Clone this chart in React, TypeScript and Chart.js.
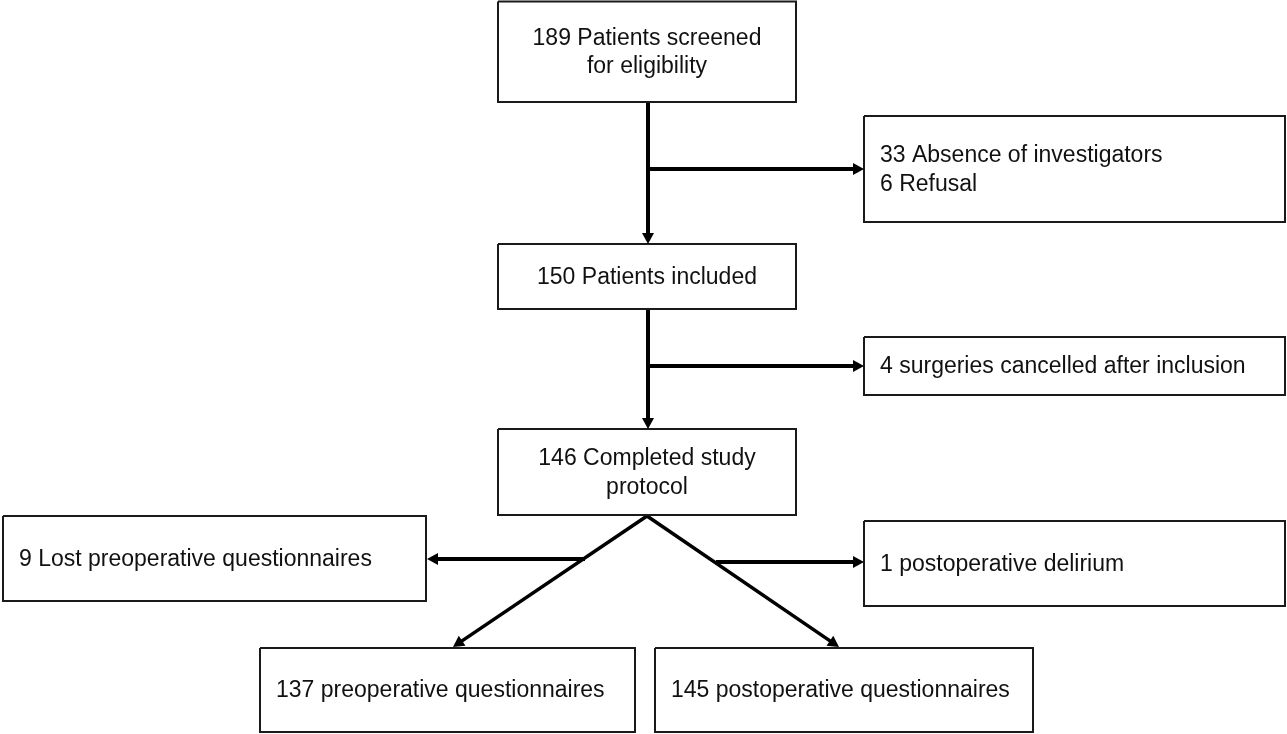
import React, { useEffect, useRef } from "react";
import { Chart, registerables } from "chart.js";

Chart.register(...registerables);

// ---- Flowchart content (text of each node) ----
const nodeLabels: string[][] = [
  ["189 Patients screened", "for eligibility"],
  ["33 Absence of investigators", "6 Refusal"],
  ["150 Patients included"],
  ["4 surgeries cancelled after inclusion"],
  ["146 Completed study", "protocol"],
  ["9 Lost preoperative questionnaires"],
  ["1 postoperative delirium"],
  ["137 preoperative questionnaires"],
  ["145 postoperative questionnaires"],
];
const nodeAlign: ("center" | "left")[] = [
  "center", "left", "center", "left", "center", "left", "left", "left", "left",
];

// ---- Node layout in diagram units (x: 0..1287, y: 0..734 downwards) ----
const nodeLeft = [498, 864, 498, 864, 498, 3, 864, 260, 655];
const nodeRight = [796, 1285, 796, 1285, 796, 426, 1285, 635, 1033];
const nodeTop = [1.5, 116, 244, 337, 429, 516, 521, 648, 648];
const nodeBottom = [102, 222, 309, 395, 515, 601, 606, 732, 732];

// ---- Connectors: start and arrow-tip points ----
const connFromX = [648, 648, 648, 648, 647, 647, 585, 716];
const connFromY = [102, 169, 309, 366, 516, 516, 559, 562];
const connToX = [648, 864, 648, 864, 453, 839, 427, 864];
const connToY = [244, 169, 429, 366, 647, 647, 559, 562];

const HEAD_LEN = 11;
const HEAD_HALF = 6;
const FONT = "23px 'Liberation Sans', Arial, Helvetica, sans-serif";
const INK = "#111111";

export default function App() {
  const canvasRef = useRef<HTMLCanvasElement | null>(null);

  useEffect(() => {
    const canvas = canvasRef.current;
    if (!canvas) return;

    const datasets: any[] = [];
    // boxes
    for (let i = 0; i < nodeLabels.length; i++) {
      const l = nodeLeft[i], r = nodeRight[i], t = nodeTop[i], b = nodeBottom[i];
      datasets.push({
        type: "line",
        data: [
          { x: l, y: t },
          { x: r, y: t },
          { x: r, y: b },
          { x: l, y: b },
          { x: l, y: t },
        ],
        borderColor: "#1a1a1a",
        borderWidth: 2,
        pointRadius: 0,
        fill: false,
        tension: 0,
        clip: false,
        borderJoinStyle: "miter",
      });
    }
    // connector shafts (stop at the base of the arrow head)
    for (let i = 0; i < connFromX.length; i++) {
      const dx = connToX[i] - connFromX[i];
      const dy = connToY[i] - connFromY[i];
      const len = Math.hypot(dx, dy);
      const ux = dx / len, uy = dy / len;
      datasets.push({
        type: "line",
        data: [
          { x: connFromX[i], y: connFromY[i] },
          { x: connToX[i] - ux * (HEAD_LEN - 1), y: connToY[i] - uy * (HEAD_LEN - 1) },
        ],
        borderColor: "#000000",
        borderWidth: i >= 4 && i <= 5 ? 3.5 : 4,
        pointRadius: 0,
        fill: false,
        clip: false,
        borderCapStyle: "butt",
      });
    }

    const flowPlugin = {
      id: "flowPlugin",
      afterDatasetsDraw(chart: any) {
        const ctx = chart.ctx as CanvasRenderingContext2D;
        const xs = chart.scales.x;
        const ys = chart.scales.y;
        ctx.save();
        // arrow heads
        ctx.fillStyle = "#000000";
        for (let i = 0; i < connFromX.length; i++) {
          const fx = xs.getPixelForValue(connFromX[i]);
          const fy = ys.getPixelForValue(connFromY[i]);
          const tx = xs.getPixelForValue(connToX[i]);
          const ty = ys.getPixelForValue(connToY[i]);
          const len = Math.hypot(tx - fx, ty - fy);
          const ux = (tx - fx) / len, uy = (ty - fy) / len;
          const bx = tx - ux * HEAD_LEN, by = ty - uy * HEAD_LEN;
          ctx.beginPath();
          ctx.moveTo(tx, ty);
          ctx.lineTo(bx - uy * HEAD_HALF, by + ux * HEAD_HALF);
          ctx.lineTo(bx + uy * HEAD_HALF, by - ux * HEAD_HALF);
          ctx.closePath();
          ctx.fill();
        }
        // labels
        ctx.font = FONT;
        ctx.fillStyle = INK;
        ctx.textBaseline = "middle";
        const lineH = 28.5;
        for (let i = 0; i < nodeLabels.length; i++) {
          const l = xs.getPixelForValue(nodeLeft[i]);
          const r = xs.getPixelForValue(nodeRight[i]);
          const t = ys.getPixelForValue(nodeTop[i]);
          const b = ys.getPixelForValue(nodeBottom[i]);
          const lines = nodeLabels[i];
          const cy = (t + b) / 2 + 1;
          const startY = cy - ((lines.length - 1) * lineH) / 2;
          let x: number;
          if (nodeAlign[i] === "center") {
            ctx.textAlign = "center";
            x = (l + r) / 2;
          } else {
            ctx.textAlign = "left";
            x = l + 16;
          }
          lines.forEach((s, k) => ctx.fillText(s, x, startY + k * lineH));
        }
        ctx.restore();
      },
    };

    const chart = new Chart(canvas, {
      type: "scatter",
      data: { datasets },
      options: {
        animation: false,
        responsive: false,
        maintainAspectRatio: false,
        devicePixelRatio: 1,
        events: [],
        layout: { padding: 0 },
        plugins: {
          legend: { display: false },
          tooltip: { enabled: false },
          title: { display: false },
        },
        scales: {
          x: { type: "linear", min: 0, max: 1287, display: false },
          y: { type: "linear", min: 0, max: 734, reverse: true, display: false },
        },
      },
      plugins: [flowPlugin],
    } as any);

    return () => chart.destroy();
  }, []);

  return (
    <div
      style={{
        position: "fixed",
        left: 0,
        top: 0,
        width: 1287,
        height: 734,
        background: "#ffffff",
      }}
    >
      <canvas ref={canvasRef} width={1287} height={734} style={{ display: "block" }} />
    </div>
  );
}
